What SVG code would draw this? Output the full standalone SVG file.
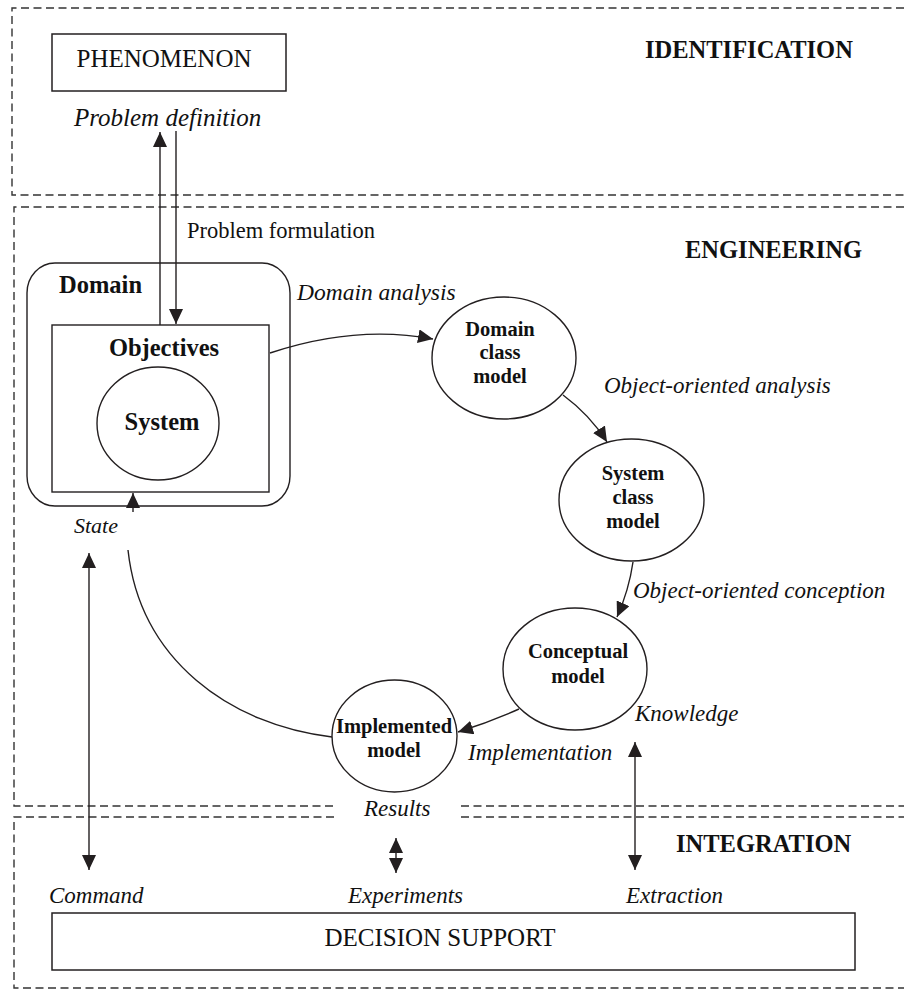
<svg xmlns="http://www.w3.org/2000/svg" width="904" height="989" viewBox="0 0 904 989">
<style>
.zone{fill:none;stroke:#333;stroke-width:1.4;stroke-dasharray:8 4.5}
.box{fill:#fff;stroke:#231f20;stroke-width:1.5}
.shape{fill:none;stroke:#231f20;stroke-width:1.4}
.conn{fill:none;stroke:#231f20;stroke-width:1.4}
text{font-family:"Liberation Serif","Times New Roman",serif;fill:#111}
.reg{font-size:22.5px}
.big{font-size:25px}
.it{font-style:italic;font-size:23px}
.hd{font-weight:bold;font-size:24.5px}
.nd{font-weight:bold;font-size:20.5px;text-anchor:middle}
</style>
<defs>
<marker id="ah" viewBox="0 0 15 14" refX="15" refY="7" markerWidth="15" markerHeight="14" markerUnits="userSpaceOnUse" orient="auto-start-reverse">
<path d="M0,0 L15,7 L0,14 z" fill="#231f20"/>
</marker>
</defs>

<g id="zones">
<path class="zone" d="M904,8 H12 V195 H904"/>
<path class="zone" d="M904,207 H14 V806 H334 M461,806 H904"/>
<path class="zone" d="M334,817 H14 V988 H904 M461,817 H904"/>
<text class="hd" x="645" y="58">IDENTIFICATION</text>
<text class="hd" x="685" y="258">ENGINEERING</text>
<text class="hd" x="676" y="852">INTEGRATION</text>
</g>

<g id="phenomenon">
<rect class="box" x="52" y="34" width="234" height="57"/>
<text class="big" x="164" y="67" text-anchor="middle">PHENOMENON</text>
</g>

<g id="domain">
<rect class="shape" x="27" y="263" width="263" height="243" rx="28" ry="30"/>
<text class="hd" x="59" y="293">Domain</text>
</g>

<g id="objectives">
<rect class="shape" x="52" y="325" width="217" height="167"/>
<text class="hd" x="164" y="356" text-anchor="middle">Objectives</text>
</g>

<g id="system">
<ellipse class="shape" cx="158" cy="423.5" rx="61" ry="56.5"/>
<text class="hd" x="162" y="430" text-anchor="middle">System</text>
</g>

<g id="domain-class-model">
<ellipse class="shape" cx="504" cy="358" rx="72" ry="61"/>
<text class="nd" x="500" y="336">Domain</text>
<text class="nd" x="500" y="359">class</text>
<text class="nd" x="500" y="383">model</text>
</g>

<g id="system-class-model">
<ellipse class="shape" cx="631.5" cy="500" rx="72.5" ry="61"/>
<text class="nd" x="633" y="480">System</text>
<text class="nd" x="633" y="504">class</text>
<text class="nd" x="633" y="528">model</text>
</g>

<g id="conceptual-model">
<ellipse class="shape" cx="575" cy="669" rx="72" ry="61"/>
<text class="nd" x="578" y="658">Conceptual</text>
<text class="nd" x="578" y="683">model</text>
</g>

<g id="implemented-model">
<ellipse class="shape" cx="394.5" cy="736" rx="62.5" ry="56"/>
<text class="nd" x="394" y="733">Implemented</text>
<text class="nd" x="394" y="757">model</text>
</g>

<g id="decision-support">
<rect class="box" x="52" y="913" width="803" height="57"/>
<text class="big" x="440" y="946" text-anchor="middle">DECISION SUPPORT</text>
</g>

<g id="connectors">
<line class="conn" x1="160" y1="325" x2="160" y2="132" marker-end="url(#ah)"/>
<line class="conn" x1="176" y1="131" x2="176" y2="324" marker-end="url(#ah)"/>
<path class="conn" d="M270,353 C330,333 385,330 433,339" marker-end="url(#ah)"/>
<path class="conn" d="M563,395 Q590,415 607,442" marker-end="url(#ah)"/>
<path class="conn" d="M633,562 Q629,590 617,617" marker-end="url(#ah)"/>
<path class="conn" d="M519,709 Q490,722 458,732" marker-end="url(#ah)"/>
<path class="conn" d="M332,737 C230,725 140,660 128,550"/>
<line class="conn" x1="133" y1="512" x2="133" y2="493" marker-end="url(#ah)"/>
<line class="conn" x1="89" y1="553" x2="89" y2="870" marker-start="url(#ah)" marker-end="url(#ah)"/>
<line class="conn" x1="396" y1="838" x2="396" y2="873" marker-start="url(#ah)" marker-end="url(#ah)"/>
<line class="conn" x1="635" y1="742" x2="635" y2="870" marker-start="url(#ah)" marker-end="url(#ah)"/>
</g>

<g id="labels">
<text class="it" x="74" y="126" style="font-size:25px">Problem definition</text>
<text class="reg" x="187" y="238">Problem formulation</text>
<text class="it" x="297" y="300" style="font-size:23.5px">Domain analysis</text>
<text class="it" x="604" y="393">Object-oriented analysis</text>
<text class="it" x="633" y="598">Object-oriented conception</text>
<text class="it" x="635" y="721">Knowledge</text>
<text class="it" x="468" y="760">Implementation</text>
<text class="it" x="74" y="533" style="font-size:22px">State</text>
<text class="it" x="364" y="816">Results</text>
<text class="it" x="49" y="903">Command</text>
<text class="it" x="348" y="903">Experiments</text>
<text class="it" x="626" y="903">Extraction</text>
</g>
</svg>
